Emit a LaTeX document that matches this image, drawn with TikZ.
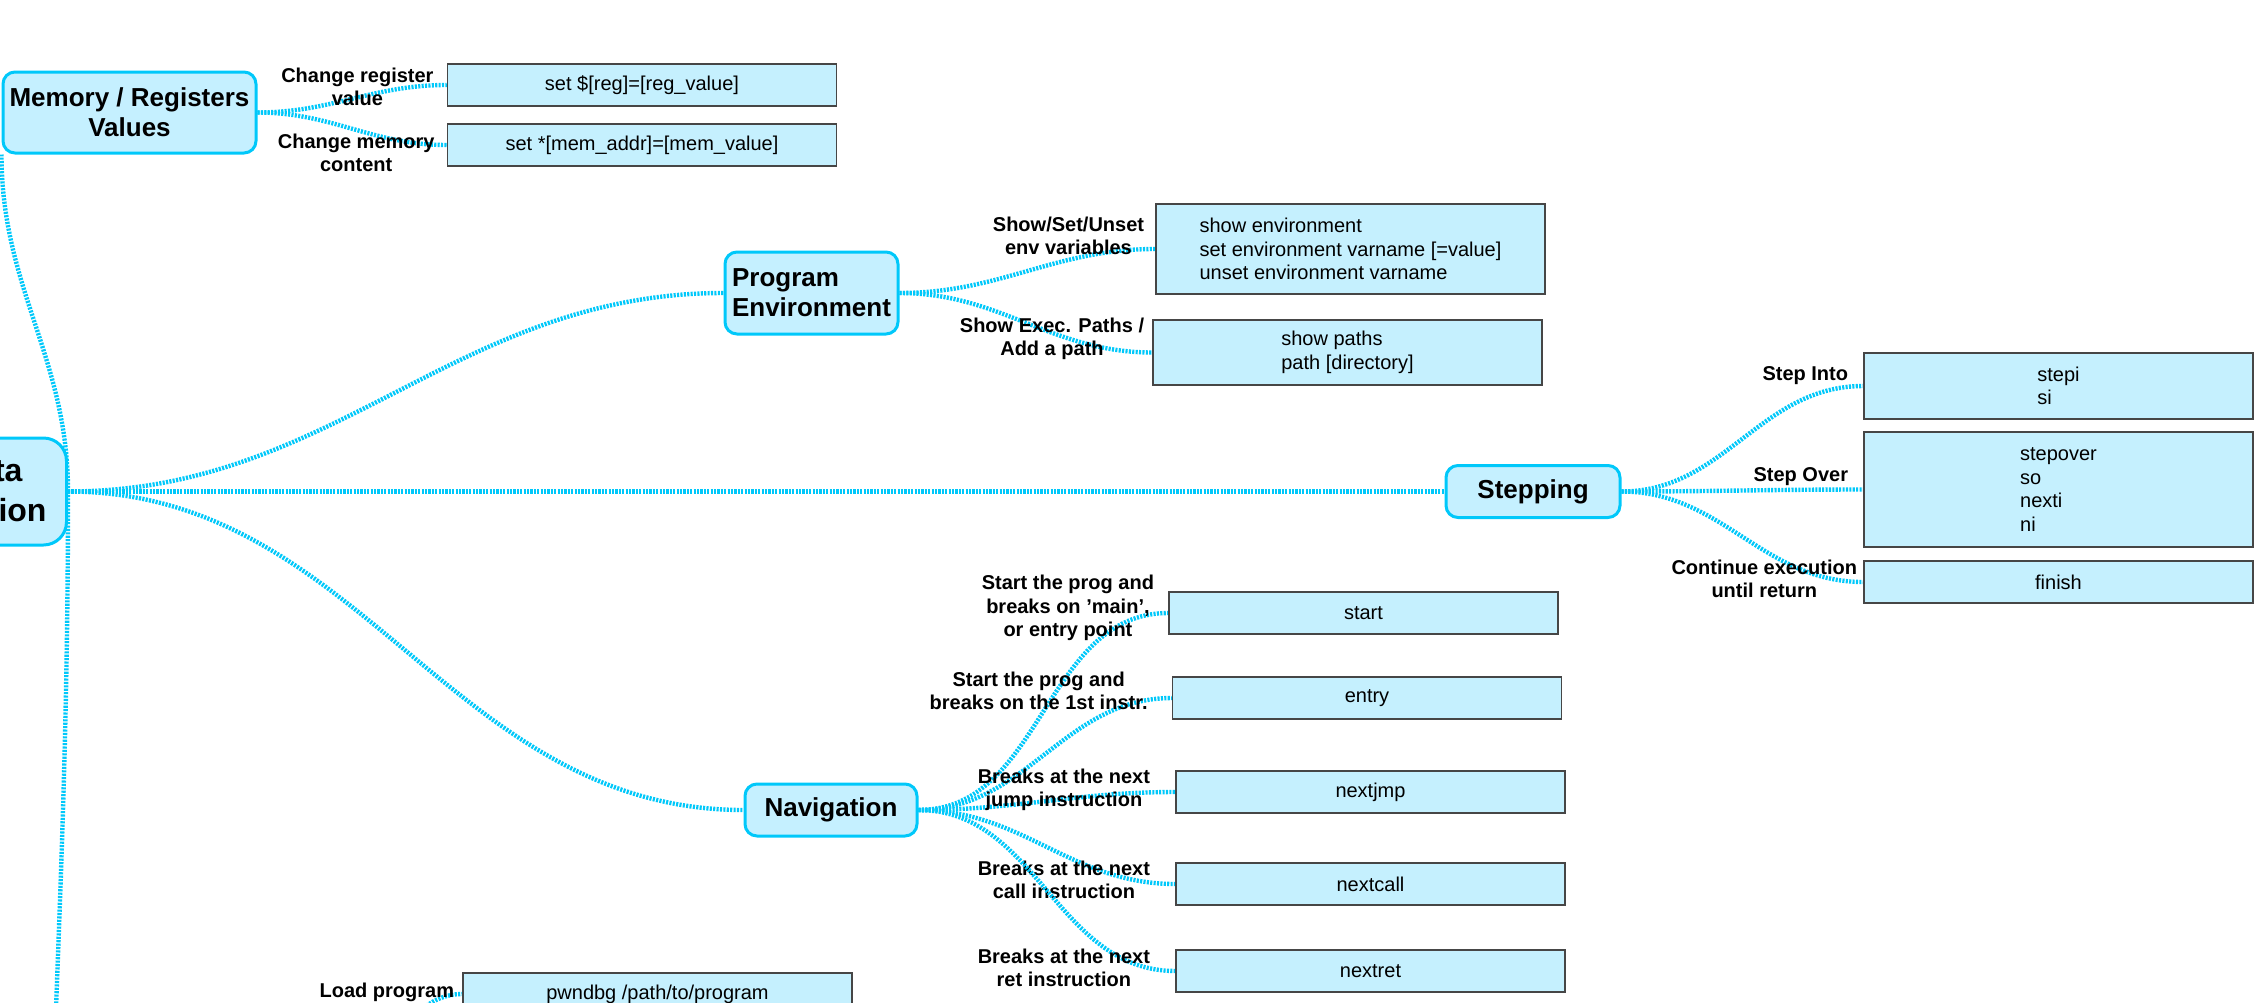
\documentclass[tikz,border=0pt]{standalone}
\usepackage{fontspec}
\setmainfont{Liberation Sans}
\usetikzlibrary{positioning, backgrounds}

\definecolor{linkblue}{RGB}{0,200,250}
\definecolor{topicfill}{RGB}{197,240,255}
\definecolor{boxfill}{RGB}{197,240,254}
\definecolor{boxline}{RGB}{70,70,70}

\tikzset{
    topic/.style={draw=linkblue, fill=topicfill, line width=3pt, rounded corners=12pt, inner sep=0pt,
        font=\fontsize{26}{30}\selectfont\bfseries},
    cmdbox/.style={draw=boxline, fill=boxfill, line width=1.5pt, minimum width=389pt, minimum height=42pt,
        inner sep=0pt, align=left, font=\fontsize{20}{23.5}\selectfont},
    hint/.style={pos=1, anchor=east, inner sep=0pt, align=center, text=black,
        font=\fontsize{20}{23.5}\selectfont\bfseries},
    linkline/.style={draw=linkblue, line width=4.4pt, dash pattern=on 2.1pt off 1.3pt},
    link/.style={every edge/.style={linkline, out=0, in=180}}
}

\begin{document}
\begin{tikzpicture}[x=1pt, y=-1pt]
    \useasboundingbox (0,0) rectangle (2268,1002);
    \clip (0,0) rectangle (2268,1002);

    \node[topic, rounded corners=23pt, font=\fontsize{32}{40}\selectfont\bfseries, text width=130pt,
        align=right, inner xsep=20pt, minimum height=107pt, anchor=east] (ctr) at (68,491.5) {ta\rule{24pt}{0pt}\\ion};
    \node[topic, minimum width=253pt, minimum height=81pt, align=center] (mem) at (129.5,112.5) {Memory / Registers\\Values};
    \node[topic, minimum width=173pt, minimum height=82pt, align=left] (progenv) at (811.5,293) {Program\\Environment};
    \node[topic, minimum width=174pt, minimum height=52pt] (stepping) at (1533,491.5) {Stepping};
    \node[topic, minimum width=172pt, minimum height=52pt] (navig) at (831,810) {Navigation};

    \node[cmdbox] (setreg) at (642,85) {set \$[reg]=[reg\_value]};
    \node[cmdbox] (setmem) at (642,145) {set *[mem\_addr]=[mem\_value]};
    \node[cmdbox, minimum height=90pt] (envcmd) at (1350.5,249) {show environment\\set environment varname [=value]\\unset environment varname};
    \node[cmdbox, minimum height=65pt] (pathcmd) at (1347.5,352.5) {show paths\\path [directory]};
    \node[cmdbox, minimum height=66pt] (stepi) at (2058.5,386) {stepi\\si};
    \node[cmdbox, minimum height=115pt] (stepover) at (2058.5,489.5) {stepover\\so\\nexti\\ni};
    \node[cmdbox] (finish) at (2058.5,582) {finish};
    \node[cmdbox] (start) at (1363.5,613) {start};
    \node[cmdbox] (entry) at (1367,698) {entry};
    \node[cmdbox] (nextjmp) at (1370.5,792) {nextjmp};
    \node[cmdbox] (nextcall) at (1370.5,884) {nextcall};
    \node[cmdbox] (nextret) at (1370.5,971) {nextret};
    \node[cmdbox] (load) at (657.5,994) {pwndbg /path/to/program};

    \coordinate (downlink) at (45,1500);
    \coordinate (loadsrc) at (330,1080);

    \begin{scope}[on background layer]
    \draw[linkline] (ctr.east) -- (stepping.west);
    \path[link]
    (ctr.east) edge[out=90, in=-90] (mem.south west)
    (ctr.east) edge[out=-90, in=90] (downlink)
    (ctr.east) edge (progenv.west)
    (ctr.east) edge (navig.west)
    (mem.east) edge node[hint, xshift=-11pt, yshift=-2pt] {Change register\\value} (setreg.west)
    (mem.east) edge node[hint, xshift=-10pt, yshift=-8pt] {Change memory\\content} (setmem.west)
    (progenv.east) edge node[hint, xshift=-9pt, yshift=13pt] {Show/Set/Unset\\env variables} (envcmd.west)
    (progenv.east) edge node[hint, xshift=-6pt, yshift=13.5pt] {Show Exec. Paths /\\Add a path} (pathcmd.west)
    (stepping.east) edge node[hint, xshift=-13pt, yshift=10pt] {Step Into} (stepi.west)
    (stepping.east) edge node[hint, xshift=-13pt, yshift=12.5pt] {Step Over} (stepover.west)
    (stepping.east) edge node[hint, xshift=-4pt, yshift=3pt] {Continue execution\\until return} (finish.west)
    (navig.east) edge node[hint, xshift=-12pt, yshift=5pt] {Start the prog and\\breaks on 'main',\\or entry point} (start.west)
    (navig.east) edge node[hint, xshift=-22pt, yshift=7pt] {Start the prog and\\breaks on the 1st instr.} (entry.west)
    (navig.east) edge node[hint, xshift=-23pt, yshift=2pt] {Breaks at the next\\jump instruction} (nextjmp.west)
    (navig.east) edge node[hint, xshift=-23pt, yshift=4pt] {Breaks at the next\\call instruction} (nextcall.west)
    (navig.east) edge node[hint, xshift=-23pt, yshift=3pt] {Breaks at the next\\ret instruction} (nextret.west)
    (loadsrc) edge node[hint, xshift=-6pt, yshift=2pt] {Load program} (load.west);
    \end{scope}
\end{tikzpicture}
\end{document}
